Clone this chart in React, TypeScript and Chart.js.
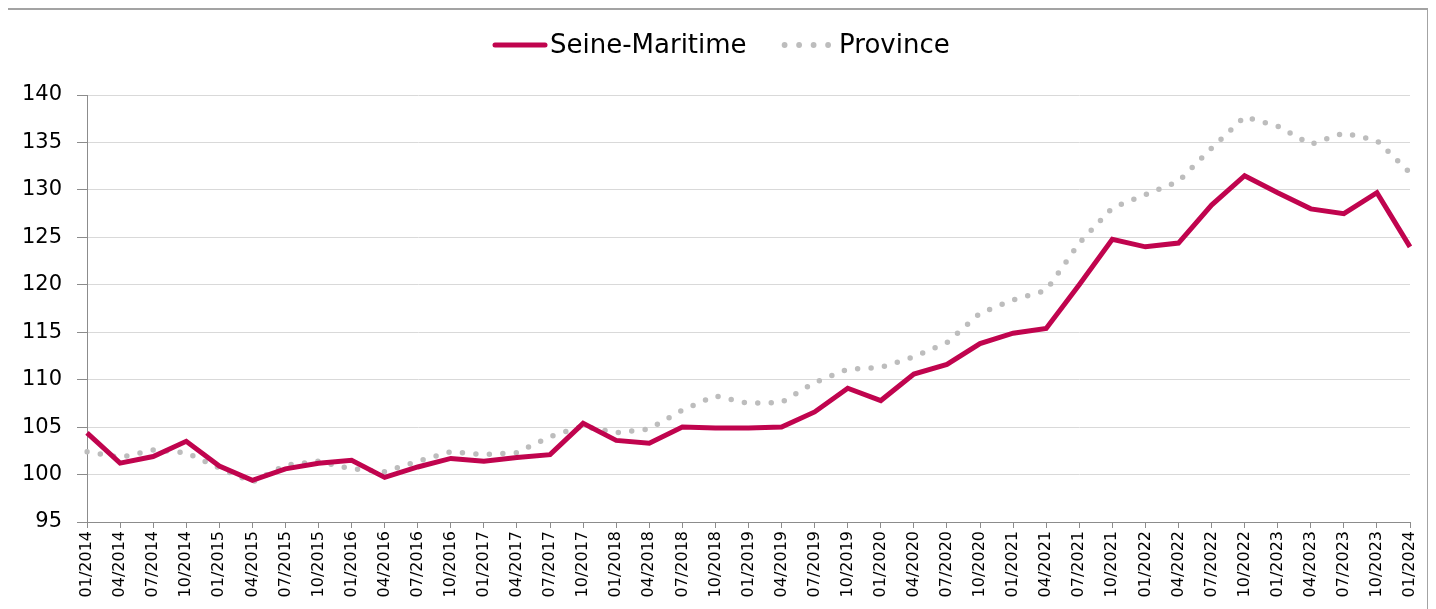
import { useEffect, useRef } from 'react';
import { Chart, registerables } from 'chart.js';

Chart.register(...registerables);

const quarters = [
  '01/2014', '04/2014', '07/2014', '10/2014',
  '01/2015', '04/2015', '07/2015', '10/2015',
  '01/2016', '04/2016', '07/2016', '10/2016',
  '01/2017', '04/2017', '07/2017', '10/2017',
  '01/2018', '04/2018', '07/2018', '10/2018',
  '01/2019', '04/2019', '07/2019', '10/2019',
  '01/2020', '04/2020', '07/2020', '10/2020',
  '01/2021', '04/2021', '07/2021', '10/2021',
  '01/2022', '04/2022', '07/2022', '10/2022',
  '01/2023', '04/2023', '07/2023', '10/2023',
  '01/2024',
];

const seineMaritime = [
  104.4, 101.2, 101.9, 103.5,
  100.9, 99.4, 100.6, 101.2,
  101.5, 99.7, 100.8, 101.7,
  101.4, 101.8, 102.1, 105.4,
  103.6, 103.3, 105.0, 104.9,
  104.9, 105.0, 106.6, 109.1,
  107.8, 110.6, 111.6, 113.8,
  114.9, 115.4, 120.0, 124.8,
  124.0, 124.4, 128.4, 131.5,
  129.7, 128.0, 127.5, 129.7,
  124.0,
];

const province = [
  102.4, 101.8, 102.6, 102.3,
  100.7, 99.2, 101.0, 101.4,
  100.6, 100.3, 101.4, 102.4,
  102.1, 102.3, 104.0, 105.1,
  104.4, 104.8, 106.8, 108.3,
  107.5, 107.6, 109.7, 111.1,
  111.3, 112.4, 113.9, 117.0,
  118.4, 119.4, 124.4, 128.1,
  129.5, 130.9, 134.4, 137.7,
  136.7, 134.8, 136.0, 135.2,
  131.8,
];

const seriesNames = ['Seine-Maritime', 'Province'];
const yMin = 95;
const yMax = 140;
const yStep = 5;

const SEINE_COLOR = '#C0044E';
const PROVINCE_COLOR = '#BDBDBD';
const FONT = '"DejaVu Sans", Verdana, sans-serif';

const legendPlugin = {
  id: 'customLegend',
  afterDraw(chart: any) {
    const ctx = chart.ctx as CanvasRenderingContext2D;
    ctx.save();
    ctx.font = `26px ${FONT}`;
    ctx.textBaseline = 'middle';
    ctx.fillStyle = '#000';
    const y = 35;
    let x = 487;
    ctx.strokeStyle = SEINE_COLOR;
    ctx.lineWidth = 5;
    ctx.lineCap = 'round';
    ctx.beginPath();
    ctx.moveTo(x, y);
    ctx.lineTo(x + 50, y);
    ctx.stroke();
    x += 55;
    const t1 = chart.data.datasets[0].label;
    ctx.fillText(t1, x, y + 1);
    x += ctx.measureText(t1).width + 38;
    ctx.fillStyle = PROVINCE_COLOR;
    for (let i = 0; i < 4; i++) {
      ctx.beginPath();
      ctx.arc(x + i * 14.5, y, 2.9, 0, Math.PI * 2);
      ctx.fill();
    }
    x += 3 * 14.5 + 11;
    ctx.fillStyle = '#000';
    ctx.fillText(chart.data.datasets[1].label, x, y + 1);
    ctx.restore();
  },
};

export default function App() {
  const ref = useRef<HTMLCanvasElement>(null);

  useEffect(() => {
    document.documentElement.style.overflow = 'hidden';
    const canvasH = 600;
    const chart = new Chart(ref.current!, {
      type: 'line',
      data: {
        labels: quarters,
        datasets: [
          {
            label: seriesNames[0],
            data: seineMaritime,
            borderColor: SEINE_COLOR,
            backgroundColor: SEINE_COLOR,
            borderWidth: 5,
            pointRadius: 0,
            tension: 0,
            order: 0,
          },
          {
            label: seriesNames[1],
            data: province,
            borderColor: PROVINCE_COLOR,
            backgroundColor: PROVINCE_COLOR,
            borderWidth: 5.5,
            borderDash: [0, 13.5],
            borderCapStyle: 'round',
            pointRadius: 0,
            tension: 0,
            order: 1,
          },
        ],
      },
      options: {
        responsive: false,
        animation: false,
        devicePixelRatio: 1,
        layout: { padding: { top: 85, right: 17, left: 0, bottom: 0 } },
        plugins: {
          legend: { display: false },
          tooltip: { enabled: false },
        },
        scales: {
          x: {
            type: 'category',
            offset: false,
            grid: {
              drawOnChartArea: false,
              drawTicks: true,
              tickLength: 6,
              tickColor: '#8c8c8c',
            },
            border: { color: '#8c8c8c', width: 1 },
            ticks: {
              autoSkip: false,
              minRotation: 90,
              maxRotation: 90,
              padding: 3,
              color: '#000',
              font: { family: FONT, size: 16 },
            },
            afterFit(scale: any) {
              scale.height = canvasH - 512;
              scale.paddingLeft = 0;
              scale.paddingRight = 0;
            },
          },
          y: {
            min: yMin,
            max: yMax,
            grid: {
              color: '#d9d9d9',
              lineWidth: 1,
              tickLength: 10,
              tickColor: '#8c8c8c',
            },
            border: { color: '#8c8c8c', width: 1 },
            ticks: {
              stepSize: yStep,
              padding: 15,
              color: '#000',
              font: { family: FONT, size: 21 },
            },
            afterFit(scale: any) {
              scale.width = 79;
              scale.paddingTop = 0;
              scale.paddingBottom = 0;
            },
          },
        },
      },
      plugins: [legendPlugin],
    } as any);
    return () => chart.destroy();
  }, []);

  return (
    <div
      style={{
        marginLeft: -2,
        width: 1423,
        height: 610,
        border: '2px solid #a3a3a3',
        boxSizing: 'border-box',
        background: '#fff',
      }}
    >
      <canvas
        ref={ref}
        width={1419}
        height={600}
        style={{ display: 'block', width: 1419, height: 600 }}
      />
    </div>
  );
}
